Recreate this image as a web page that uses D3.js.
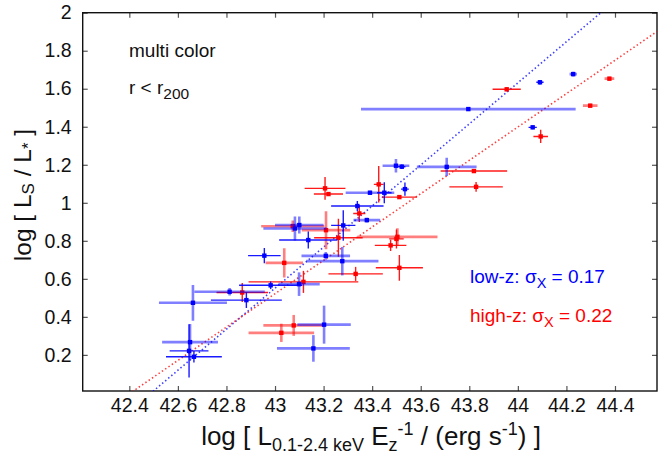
<!DOCTYPE html>
<html>
<head>
<meta charset="utf-8">
<script src="https://cdn.jsdelivr.net/npm/d3@7"></script>
<style>
  body { margin: 0; background: #fff; }
  svg { font-family: "Liberation Sans", Arial, Helvetica, sans-serif; }
</style>
</head>
<body>
<script>
// Low-z sample (blue)
var lowX = [44.228, 44.091, 43.796, 44.061, 43.522, 43.707, 43.498, 43.391, 43.45, 43.535, 43.339, 43.378, 43.1, 43.082, 43.281, 43.137, 43.209, 43.277, 43.099, 42.982, 42.956, 42.813, 42.882, 42.662, 42.65, 42.646, 42.666, 43.158, 43.202];
var lowY = [1.677, 1.634, 1.493, 1.397, 1.19, 1.189, 1.195, 1.053, 1.053, 1.072, 0.983, 0.909, 0.883, 0.865, 0.881, 0.804, 0.721, 0.693, 0.572, 0.566, 0.722, 0.532, 0.488, 0.474, 0.267, 0.221, 0.19, 0.234, 0.359];
var lowXErr = [0.015, 0.015, 0.442, 0.017, 0.015, 0.123, 0.055, 0.1, 0.03, 0.016, 0.108, 0.055, 0.1, 0.13, 0.05, 0.12, 0.1, 0.149, 0.085, 0.13, 0.067, 0.145, 0.146, 0.14, 0.115, 0.08, 0.115, 0.15, 0.11];
var lowYErr = [0.012, 0.012, 0.01, 0.01, 0.012, 0.048, 0.035, 0.01, 0.055, 0.035, 0.027, 0.012, 0.045, 0.063, 0.08, 0.045, 0.02, 0.075, 0.062, 0.02, 0.04, 0.02, 0.042, 0.094, 0.095, 0.14, 0.03, 0.07, 0.1];
var lowFaint = [1, 0, 1, 0, 0, 1, 1, 1, 0, 0, 0, 1, 1, 1, 0, 0, 1, 1, 1, 0, 0, 1, 0, 1, 1, 0, 0, 1, 1];

// High-z sample (red)
var highX = [43.954, 44.377, 44.298, 44.094, 43.819, 43.828, 43.206, 43.22, 43.427, 43.512, 43.347, 43.073, 43.21, 43.261, 43.504, 43.5, 43.476, 43.512, 43.038, 43.332, 43.117, 42.865, 43.077, 43.026];
var highY = [1.597, 1.653, 1.511, 1.349, 1.167, 1.084, 1.076, 1.046, 1.097, 1.03, 0.944, 0.877, 0.856, 0.816, 0.821, 0.81, 0.776, 0.658, 0.684, 0.626, 0.584, 0.528, 0.355, 0.316];
var highXErr = [0.058, 0.02, 0.03, 0.03, 0.137, 0.11, 0.084, 0.06, 0.02, 0.072, 0.025, 0.13, 0.1, 0.1, 0.165, 0.03, 0.065, 0.097, 0.077, 0.112, 0.226, 0.106, 0.125, 0.135];
var highYErr = [0.01, 0.01, 0.01, 0.035, 0.01, 0.026, 0.06, 0.01, 0.096, 0.01, 0.045, 0.03, 0.1, 0.1, 0.045, 0.05, 0.03, 0.068, 0.077, 0.037, 0.058, 0.05, 0.055, 0.048];
var highFaint = [0, 1, 1, 0, 0, 0, 0, 0, 0, 0, 0, 1, 1, 0, 1, 0, 0, 0, 1, 0, 0, 0, 1, 1];

// Fit lines: slope and a point the line passes through
var fitSlope = [1.08, 0.877];
var fitX0 = [42.499, 42.4165];
var fitY0 = [0.01, 0.01];

var xTicks = [42.4, 42.6, 42.8, 43, 43.2, 43.4, 43.6, 43.8, 44, 44.2, 44.4];
var yTicks = [0.2, 0.4, 0.6, 0.8, 1, 1.2, 1.4, 1.6, 1.8, 2];

var svgWidth = 658;
var svgHeight = 458;
var plot = { left: 82.7, right: 657, top: 12.7, bottom: 391 };

var svg = d3.select("body").append("svg")
            .attr("width", svgWidth)
            .attr("height", svgHeight);

var x = d3.scaleLinear().domain([42.208, 44.573]).range([plot.left, plot.right]);
var y = d3.scaleLinear().domain([0.01, 2]).range([plot.bottom, plot.top]);

svg.append("clipPath").attr("id", "clip")
   .append("rect")
   .attr("x", plot.left).attr("y", plot.top)
   .attr("width", plot.right - plot.left).attr("height", plot.bottom - plot.top);

var fmt = function(d) { return d3.format("")(d); };

// axes with inward ticks
svg.append("g")
   .attr("transform", "translate(0," + plot.bottom + ")")
   .call(d3.axisBottom(x).tickValues(xTicks).tickSizeInner(-5).tickSizeOuter(0).tickPadding(7).tickFormat(fmt));
svg.append("g")
   .attr("transform", "translate(0," + plot.top + ")")
   .call(d3.axisTop(x).tickValues(xTicks).tickSizeInner(-5).tickSizeOuter(0).tickFormat(""));
svg.append("g")
   .attr("transform", "translate(" + plot.left + ",0)")
   .call(d3.axisLeft(y).tickValues(yTicks).tickSizeInner(-5).tickSizeOuter(0).tickPadding(11).tickFormat(fmt));
svg.append("g")
   .attr("transform", "translate(" + plot.right + ",0)")
   .call(d3.axisRight(y).tickValues(yTicks).tickSizeInner(-5).tickSizeOuter(0).tickFormat(""));

svg.selectAll(".domain").remove();
svg.selectAll(".tick line").attr("stroke", "#555").attr("stroke-width", 1.2);
svg.selectAll(".tick text").attr("fill", "#111").style("font-size", "19.5px");

// frame
svg.append("rect")
   .attr("x", plot.left).attr("y", plot.top)
   .attr("width", plot.right - plot.left).attr("height", plot.bottom - plot.top)
   .attr("fill", "none").attr("stroke", "#111").attr("stroke-width", 1.4);

var chart = svg.append("g").attr("clip-path", "url(#clip)");

// fit lines
var colors = ["#0000ff", "#ff0000"];
fitSlope.forEach(function(s, i) {
  var x0 = x.domain()[0], x1 = x.domain()[1];
  var f = function(v) { return fitY0[i] + s * (v - fitX0[i]); };
  chart.append("line")
       .attr("x1", x(x0)).attr("y1", y(f(x0)))
       .attr("x2", x(x1)).attr("y2", y(f(x1)))
       .attr("stroke", colors[i])
       .attr("stroke-width", 1.6)
       .attr("stroke-opacity", 0.75)
       .attr("stroke-dasharray", "1.5,2.5");
});

function drawSeries(xs, ys, xe, ye, faint, color) {
  var data = xs.map(function(v, i) {
    return { x: v, y: ys[i], xe: xe[i], ye: ye[i], faint: faint[i] };
  });
  var g = chart.append("g");
  g.selectAll(".xbar").data(data).enter().append("line")
   .attr("x1", function(d) { return x(d.x - d.xe); })
   .attr("x2", function(d) { return x(d.x + d.xe); })
   .attr("y1", function(d) { return y(d.y); })
   .attr("y2", function(d) { return y(d.y); })
   .attr("stroke", color)
   .attr("stroke-width", function(d) { return d.faint ? 2.6 : 1.4; })
   .attr("stroke-opacity", function(d) { return d.faint ? 0.5 : 0.9; });
  g.selectAll(".ybar").data(data).enter().append("line")
   .attr("x1", function(d) { return x(d.x); })
   .attr("x2", function(d) { return x(d.x); })
   .attr("y1", function(d) { return y(d.y - d.ye); })
   .attr("y2", function(d) { return y(d.y + d.ye); })
   .attr("stroke", color)
   .attr("stroke-width", function(d) { return d.faint ? 2.6 : 1.4; })
   .attr("stroke-opacity", function(d) { return d.faint ? 0.5 : 0.9; });
  g.selectAll("rect").data(data).enter().append("rect")
   .attr("x", function(d) { return x(d.x) - 2.2; })
   .attr("y", function(d) { return y(d.y) - 2.2; })
   .attr("width", 4.4).attr("height", 4.4)
   .attr("fill", color);
}

drawSeries(highX, highY, highXErr, highYErr, highFaint, "#ff0000");
drawSeries(lowX, lowY, lowXErr, lowYErr, lowFaint, "#0000ff");

// annotations
svg.append("text").attr("x", 129).attr("y", 57)
   .style("font-size", "19px").attr("fill", "#111").text("multi color");
var r = svg.append("text").attr("x", 129).attr("y", 94)
   .style("font-size", "19px").attr("fill", "#111");
r.append("tspan").text("r < r");
r.append("tspan").attr("dy", 5).style("font-size", "15.5px").text("200");

var legendText = [["low-z:  ", "0.17"], ["high-z: ", "0.22"]];
var legendY = [283, 321.5];
legendText.forEach(function(t, i) {
  var lt = svg.append("text").attr("x", 470).attr("y", legendY[i])
     .style("font-size", "19px").attr("fill", colors[i]);
  lt.append("tspan").text(t[0] + "\u03C3");
  lt.append("tspan").attr("dy", 5).style("font-size", "14.5px").text("X");
  lt.append("tspan").attr("dy", -5).text(" = " + t[1]);
});

// x axis title
var xt = svg.append("text")
   .attr("x", 371).attr("y", 445)
   .attr("text-anchor", "middle")
   .style("font-size", "26px").attr("fill", "#111");
xt.append("tspan").text("log [ L");
xt.append("tspan").attr("dy", 6).style("font-size", "18px").text("0.1-2.4 keV");
xt.append("tspan").attr("dy", -6).text(" E");
xt.append("tspan").attr("dy", 6).style("font-size", "18px").text("z");
xt.append("tspan").attr("dy", -16).style("font-size", "18px").text("-1");
xt.append("tspan").attr("dy", 10).text(" / (erg s");
xt.append("tspan").attr("dy", -10).style("font-size", "18px").text("-1");
xt.append("tspan").attr("dy", 10).text(") ]");

// y axis title
var yt = svg.append("text")
   .attr("transform", "translate(31,195) rotate(-90)")
   .attr("text-anchor", "middle")
   .style("font-size", "24.5px").attr("fill", "#111");
yt.append("tspan").text("log [ L");
yt.append("tspan").attr("dy", 3).style("font-size", "17px").text("S");
yt.append("tspan").attr("dy", -3).text(" / L");
yt.append("tspan").attr("dy", 3).style("font-size", "17px").text("*");
yt.append("tspan").attr("dy", -3).text(" ]");
</script>
</body>
</html>
